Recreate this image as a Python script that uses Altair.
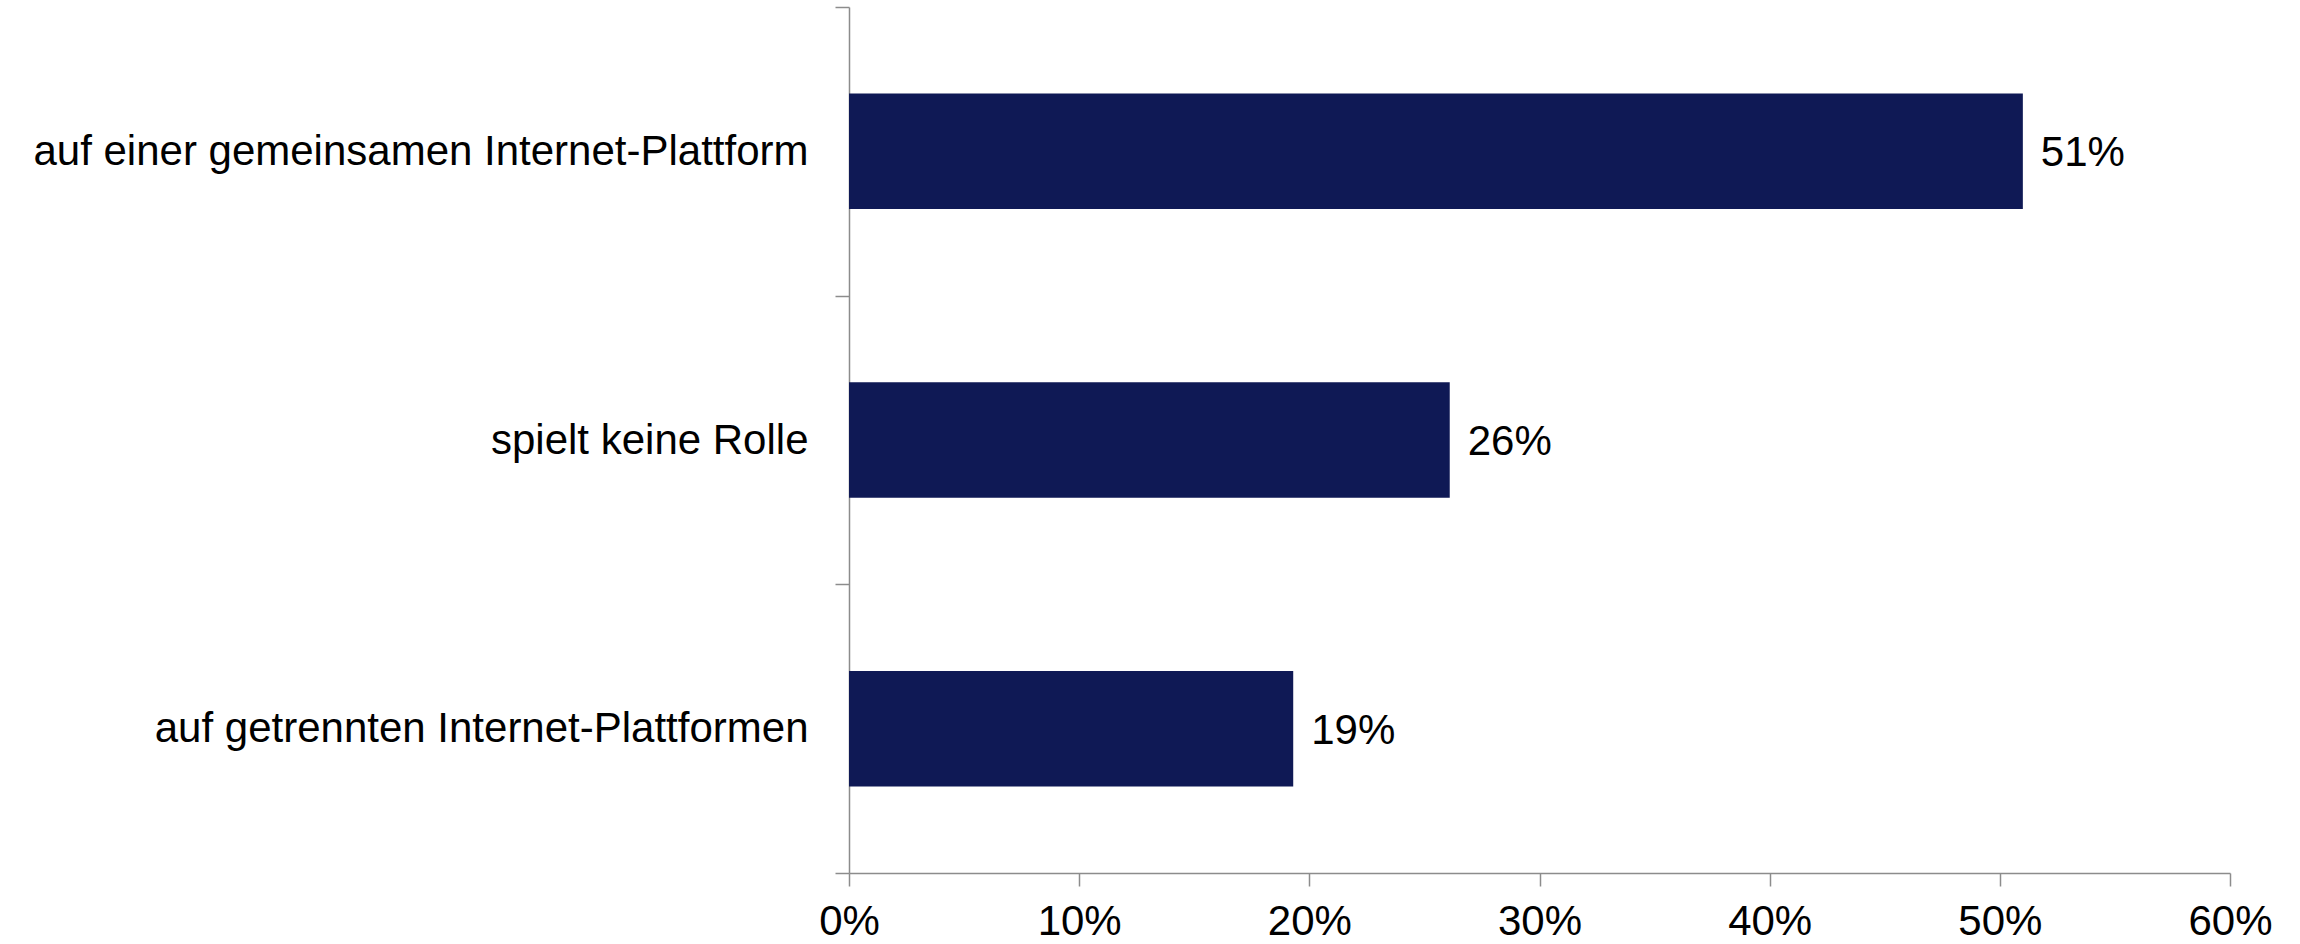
import altair as alt
import pandas as pd

categories = [
    "auf einer gemeinsamen Internet-Plattform",
    "spielt keine Rolle",
    "auf getrennten Internet-Plattformen",
]
values = [51.0, 26.1, 19.3]
labels = ["51%", "26%", "19%"]
x_ticks = [0, 10, 20, 30, 40, 50, 60]

df = pd.DataFrame({"cat": categories, "value": values, "label": labels})

FONT = "Liberation Sans"
AXIS_COLOR = "#8c8c8c"
BAR_COLOR = "#0f1955"

y_enc = alt.Y(
    "cat:N",
    sort=categories,
    title=None,
    scale=alt.Scale(paddingInner=0, paddingOuter=0),
    axis=alt.Axis(
        tickBand="extent",
        tickSize=14,
        tickColor=AXIS_COLOR,
        tickWidth=1.5,
        domainColor=AXIS_COLOR,
        domainWidth=1.5,
        labelFont=FONT,
        labelFontSize=42,
        labelColor="black",
        labelPadding=27,
        labelLimit=1200,
        grid=False,
    ),
)

x_enc = alt.X(
    "value:Q",
    title=None,
    scale=alt.Scale(domain=[0, 60], nice=False),
    axis=alt.Axis(
        values=x_ticks,
        labelExpr="datum.value + '%'",
        grid=False,
        tickSize=13,
        tickColor=AXIS_COLOR,
        tickWidth=1.5,
        domainColor=AXIS_COLOR,
        domainWidth=1.5,
        labelFont=FONT,
        labelFontSize=42,
        labelColor="black",
        labelPadding=15,
        labelFlush=False,
    ),
)

bars = alt.Chart(df).mark_bar(
    color=BAR_COLOR, height=alt.RelativeBandSize(band=0.4)
).encode(x=x_enc, y=y_enc)

text = alt.Chart(df).mark_text(
    align="left", baseline="middle", dx=18, dy=2, font=FONT, fontSize=42, color="black"
).encode(x="value:Q", y=alt.Y("cat:N", sort=categories), text="label:N")

chart = (
    alt.layer(bars, text)
    .properties(
        width=1381,
        height=866,
        background="white",
        autosize=alt.AutoSizeParams(type="none"),
        padding={"left": 849, "top": 7, "right": 70, "bottom": 71},
    )
    .configure_view(strokeWidth=0, stroke=None)
)

chart.save("out.html", embed_options={"renderer": "svg", "actions": False})
